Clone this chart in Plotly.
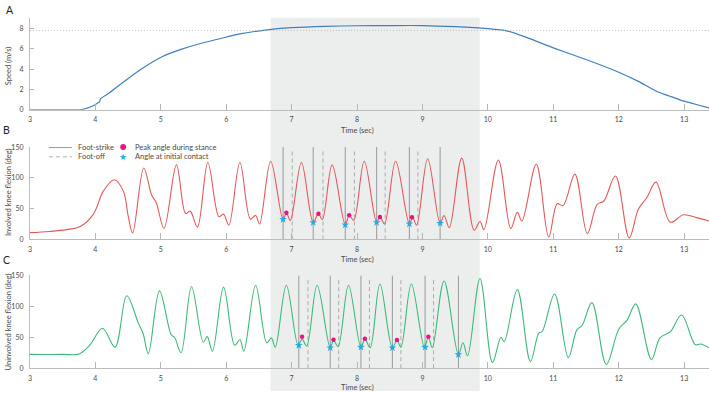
import plotly.graph_objects as go

# ---------------- data ----------------
speed_t = [3.0, 3.5, 3.79, 3.95, 4.05, 4.065, 4.08, 4.2, 4.4, 4.71, 5.02, 5.32, 5.62, 5.93, 6.23,
           6.6, 7.0, 7.5, 8.0, 8.5, 9.0, 9.5, 10.0, 10.3, 10.6, 11.0, 11.5, 12.0, 12.3, 12.6,
           12.8, 13.0, 13.2, 13.38]
speed_v = [0.0, 0.0, 0.02, 0.35, 0.72, 0.76, 1.1, 1.6, 2.6, 4.05, 5.23, 5.97, 6.55, 7.04, 7.49,
           7.85, 8.08, 8.22, 8.27, 8.29, 8.29, 8.18, 7.98, 7.75, 7.1, 6.1, 4.95, 3.7, 2.8, 1.75,
           1.3, 0.85, 0.5, 0.2]
speed_ref = 7.8

inv_t = [3.0, 3.3, 3.56, 3.77, 3.97, 4.12, 4.29, 4.43, 4.50, 4.57, 4.74, 4.86, 4.93, 5.05,
         5.24, 5.38, 5.45, 5.56, 5.72, 5.89, 5.96, 6.04, 6.21, 6.37, 6.45, 6.51, 6.68, 6.87,
         6.92, 6.98, 7.15, 7.33, 7.41, 7.47, 7.62, 7.82, 7.88, 7.95, 8.11, 8.30, 8.35, 8.42,
         8.59, 8.80, 8.85, 8.91, 9.08, 9.27, 9.33, 9.41, 9.60, 9.79, 9.88, 9.94, 10.16, 10.35,
         10.45, 10.52, 10.74, 10.93, 11.06, 11.15, 11.33, 11.52, 11.67, 11.77, 11.95, 12.16,
         12.30, 12.43, 12.57, 12.79, 12.99, 13.2, 13.38]
inv_a = [11, 13, 16, 21, 41, 78, 97, 78, 39, 10.5, 116, 72, 60, 18,
         121, 42, 46, 20, 125, 37, 41, 23, 125, 33, 39, 25, 127, 32,
         43, 31, 125, 27.5, 42, 32, 121, 24, 39, 31, 127, 27.5, 37, 25,
         127, 25, 36, 23, 131, 26, 39, 19, 132, 15, 29, 16, 129, 17.5,
         44, 30, 122, 4, 58, 55, 106, 9.5, 57, 62, 103, 2.5,
         49, 68, 93, 28, 40, 35, 30]

uninv_t = [3.0, 3.5, 3.75, 3.92, 4.11, 4.30, 4.48, 4.66, 4.73, 4.81, 4.98, 5.16, 5.21, 5.31,
           5.47, 5.65, 5.71, 5.79, 5.96, 6.13, 6.21, 6.27, 6.45, 6.62, 6.69, 6.75, 6.92, 7.10,
           7.16, 7.23, 7.39, 7.59, 7.64, 7.71, 7.87, 8.06, 8.12, 8.20, 8.35, 8.54, 8.61, 8.67,
           8.83, 9.03, 9.09, 9.15, 9.33, 9.55, 9.62, 9.69, 9.88, 10.07, 10.20, 10.25, 10.45,
           10.65, 10.78, 10.83, 11.02, 11.23, 11.36, 11.44, 11.59, 11.81, 12.0, 12.13, 12.26,
           12.50, 12.63, 12.79, 12.96, 13.17, 13.25, 13.38]
uninv_a = [22.3, 22.3, 23, 38, 64.5, 34, 117, 72, 56, 23.5, 125, 54, 50, 25,
           132, 42, 51, 27.5, 131, 37, 46, 27.5, 134, 41, 49, 34, 134, 37,
           47, 36, 134, 33, 45, 35, 134, 34, 47, 33, 136, 33, 45, 34,
           136, 34, 50, 33, 141, 22, 41, 20, 145, 9, 50, 43, 127,
           10.6, 57, 59, 120, 17, 62, 69, 106, 6, 63, 78, 104,
           14, 49, 59, 86, 38, 39, 33]

# events, involved limb
inv_strike_t = [6.87, 7.33, 7.82, 8.30, 8.80, 9.27]
inv_off_t = [7.01, 7.48, 7.96, 8.43, 8.93]
inv_contact_a = [32.7, 27.5, 23.8, 27.5, 25.4, 26.4]
inv_peak_t = [6.92, 7.41, 7.88, 8.35, 8.84]
inv_peak_a = [43.4, 41.8, 39.1, 36.6, 35.9]

# events, uninvolved limb
un_strike_t = [7.11, 7.59, 8.06, 8.54, 9.04, 9.55]
un_off_t = [7.25, 7.72, 8.19, 8.67, 9.17]
un_contact_a = [37, 33, 34, 33, 34, 22]
un_peak_t = [7.16, 7.64, 8.12, 8.61, 9.09]
un_peak_a = [51, 46, 47.5, 45.5, 51]

steady_start, steady_end = 6.68, 9.875
x_ticks = [3, 4, 5, 6, 7, 8, 9, 10, 11, 12, 13]
speed_ticks = [0, 2, 4, 6, 8]
angle_ticks = [0, 50, 100, 150]

# ---------------- style ----------------
W, H = 709, 394
FONT = "Lato"
TXT = "#4a4a4a"
RED = "#e4585a"
GREEN = "#3db97a"
BLUE = "#3f7fc0"
MAG = "#e5177f"
CYAN = "#27aae1"
VL = "#8e8e8e"
VD = "#a4a4a4"

def px(xp):
    return xp / W

def py(yp):
    return 1 - yp / H

fig = go.Figure()

def vlines(ts, ymax):
    xs, ys = [], []
    for t in ts:
        xs += [t, t, None]
        ys += [0, ymax, None]
    return xs, ys

# panel A
fig.add_trace(go.Scatter(x=speed_t, y=speed_v, mode="lines",
                         line=dict(color=BLUE, width=1.2, shape="spline", smoothing=0.6),
                         xaxis="x", yaxis="y", showlegend=False, hoverinfo="skip"))

# panel B and C
for (tt, aa, col, st, ot, ca, pt, pa, xa, ya) in [
        (inv_t, inv_a, RED, inv_strike_t, inv_off_t, inv_contact_a, inv_peak_t, inv_peak_a, "x2", "y2"),
        (uninv_t, uninv_a, GREEN, un_strike_t, un_off_t, un_contact_a, un_peak_t, un_peak_a, "x3", "y3")]:
    xs, ys = vlines(st, 150)
    fig.add_trace(go.Scatter(x=xs, y=ys, mode="lines", line=dict(color=VL, width=0.9),
                             xaxis=xa, yaxis=ya, showlegend=False, hoverinfo="skip"))
    xs, ys = vlines(ot, 147)
    fig.add_trace(go.Scatter(x=xs, y=ys, mode="lines", line=dict(color=VD, width=0.9, dash="4px,3px"),
                             xaxis=xa, yaxis=ya, showlegend=False, hoverinfo="skip"))
    fig.add_trace(go.Scatter(x=tt, y=aa, mode="lines",
                             line=dict(color=col, width=1.1, shape="spline", smoothing=1.0),
                             xaxis=xa, yaxis=ya, showlegend=False, hoverinfo="skip"))
    fig.add_trace(go.Scatter(x=st, y=ca, mode="markers",
                             marker=dict(symbol="star", size=6, color=CYAN, line=dict(width=0)),
                             xaxis=xa, yaxis=ya, showlegend=False, hoverinfo="skip"))
    fig.add_trace(go.Scatter(x=pt, y=pa, mode="markers",
                             marker=dict(symbol="circle", size=4.5, color=MAG, line=dict(width=0)),
                             xaxis=xa, yaxis=ya, showlegend=False, hoverinfo="skip"))

xdom = [px(28), 1.0]
xrange_ = [3, 13.38]
axis_common = dict(showgrid=False, zeroline=False, showline=True, linecolor="#bdbdbd", linewidth=1,
                   ticks="inside", tickcolor="#b5b5b5", tickwidth=1,
                   tickfont=dict(family=FONT, size=7, color=TXT), fixedrange=True)

layout = dict(
    width=W, height=H, margin=dict(l=0, r=0, t=0, b=0),
    paper_bgcolor="white", plot_bgcolor="rgba(0,0,0,0)",
    font=dict(family=FONT, color=TXT),
    showlegend=False,
)
panels = [("", py(107), py(13), [0, 9.06], speed_ticks, 4),
          ("2", py(239.3), py(145), [0, 150], angle_ticks, 4),
          ("3", py(370.7), py(276), [0, 150], angle_ticks, 4)]
for suf, y0, y1, yr, yt, tl in panels:
    layout["xaxis" + suf] = dict(axis_common, domain=xdom, range=xrange_, anchor="y" + suf,
                                 tickvals=x_ticks, ticklen=6, ticklabelstandoff=3)
    layout["yaxis" + suf] = dict(axis_common, domain=[y0, y1], range=yr, anchor="x" + suf,
                                 tickvals=yt, ticklen=tl, ticklabelstandoff=4)
fig.update_layout(**layout)

shapes = [
    dict(type="rect", xref="x", yref="paper", x0=steady_start, x1=steady_end, y0=0, y1=py(13),
         fillcolor="#eceeee", line=dict(width=0), layer="below"),
    dict(type="line", xref="x domain", yref="y", x0=0, x1=1, y0=speed_ref, y1=speed_ref,
         line=dict(color="#b0b0b0", width=0.8, dash="1px,2px")),
    # legend samples
    dict(type="line", xref="paper", yref="paper", x0=px(47), x1=px(70), y0=py(145.5), y1=py(145.5),
         line=dict(color=VL, width=0.9)),
    dict(type="line", xref="paper", yref="paper", x0=px(47), x1=px(70), y0=py(155), y1=py(155),
         line=dict(color=VD, width=0.9, dash="4px,3px")),
    dict(type="circle", xref="paper", yref="paper", x0=px(118.5), x1=px(124.5), y0=py(148), y1=py(142),
         fillcolor=MAG, line=dict(width=0)),
]
fig.update_layout(shapes=shapes)

ann = []
def text(x, y, s, size=7.5, xanchor="center", angle=0, color=TXT):
    ann.append(dict(x=px(x), y=py(y), xref="paper", yref="paper", text=s, showarrow=False,
                    xanchor=xanchor, yanchor="middle", textangle=angle,
                    font=dict(family=FONT, size=size, color=color)))

text(8, 5.5, "A", size=10.5, color="#222")
text(5, 127.5, "B", size=10.5, color="#222")
text(5, 260, "C", size=10.5, color="#222")
text(6.5, 62, "Speed (m/s)", size=7.5, angle=-90)
text(6, 191, "Involved knee flexion (deg)", size=7.5, angle=-90)
text(6, 323, "Uninvolved knee flexion (deg)", size=7.5, angle=-90)
for yy in (128.3, 259.3, 390):
    text(357, yy, "Time (sec)", size=7.5)
text(74, 145.5, "Foot-strike", xanchor="left")
text(74, 155, "Foot-off", xanchor="left")
text(131, 145.5, "Peak angle during stance", xanchor="left")
text(131, 155, "Angle at initial contact", xanchor="left")
text(121.5, 155, "★", size=8.5, color=CYAN)
fig.update_layout(annotations=ann)

fig.write_html("out.html")
